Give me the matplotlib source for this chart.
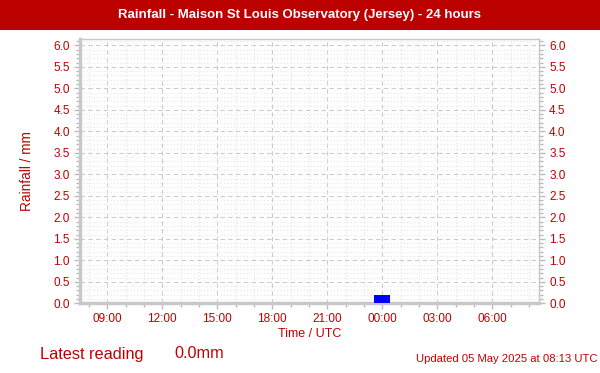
import matplotlib
matplotlib.use("Agg")
import matplotlib.pyplot as plt
import matplotlib.dates as mdates
from matplotlib.patches import Rectangle
from matplotlib.ticker import MultipleLocator
from datetime import datetime, timedelta

# Dados: chuva por hora (mm), 24 horas ate 08:13 UTC de 05/05/2025
hours = [datetime(2025, 5, 4, 9) + timedelta(hours=h) for h in range(24)]
rain_mm = [0.0] * 24
rain_mm[15] = 0.2   # 00:00 UTC
title = "Rainfall - Maison St Louis Observatory (Jersey) - 24 hours"
latest = "0.0mm"
updated = "Updated 05 May 2025 at 08:13 UTC"

red = "#c00000"
grid_c = "#cccccc"

plt.rcParams["font.family"] = ["Liberation Sans", "DejaVu Sans"]

fig = plt.figure(figsize=(6.0, 3.73), dpi=100)

# Faixa do titulo
fig.patches.append(Rectangle((0, 1 - 30 / 373), 1, 30 / 373, transform=fig.transFigure,
                             facecolor="#bb0000", edgecolor="none", zorder=0))
fig.text(0.5, 1 - 15 / 373, title, color="white", fontsize=9.5, fontweight="bold",
         ha="center", va="center")

ax = fig.add_axes([80.3 / 600, 1 - 303.3 / 373, (538.7 - 80.3) / 600, (303.3 - 39.3) / 373])

ax.bar(hours, rain_mm, width=0.85 / 24, color="#0000ff", linewidth=0, zorder=3)

ax.set_xlim(datetime(2025, 5, 4, 7, 32), datetime(2025, 5, 5, 8, 32))
ax.set_ylim(0, 6.14)

ax.xaxis.set_major_locator(mdates.HourLocator(byhour=range(0, 24, 3)))
ax.xaxis.set_minor_locator(mdates.HourLocator())
ax.xaxis.set_major_formatter(mdates.DateFormatter("%H:%M"))
ax.yaxis.set_major_locator(MultipleLocator(0.5))
ax.yaxis.set_minor_locator(MultipleLocator(0.1))
ax.yaxis.set_major_formatter(lambda v, p: f"{v:.1f}")

ax.grid(which="major", color=grid_c, linestyle=(0, (4, 3)), linewidth=0.8)
ax.grid(which="minor", color="#e4e4e4", linestyle=(0, (1, 2)), linewidth=0.8)
ax.set_axisbelow(True)

ax.tick_params(which="both", colors="#bbbbbb", labelcolor=red, labelsize=8.5,
               right=True, labelright=True)
ax.tick_params(which="major", length=4, width=1)
ax.tick_params(which="minor", length=3, width=1)
ax.tick_params(axis="x", pad=3)

for s in ["left", "bottom"]:
    ax.spines[s].set_color("#c8c8c8")
    ax.spines[s].set_linewidth(2.5)
for s in ["top", "right"]:
    ax.spines[s].set_color("#c8c8c8")
    ax.spines[s].set_linewidth(1)

ax.set_xlabel("Time / UTC", color=red, fontsize=9, labelpad=2)
ax.set_ylabel("Rainfall / mm", color=red, fontsize=9.8, labelpad=14)

fig.text(40 / 600, 1 - 354 / 373, "Latest reading", color=red, fontsize=11.7, va="center")
fig.text(174 / 600, 1 - 354 / 373, latest, color=red, fontsize=11.7, va="center")
fig.text(597 / 600, 1 - 359.3 / 373, updated, color=red, fontsize=8.1, ha="right", va="center")

fig.savefig("out.png", dpi=100)
